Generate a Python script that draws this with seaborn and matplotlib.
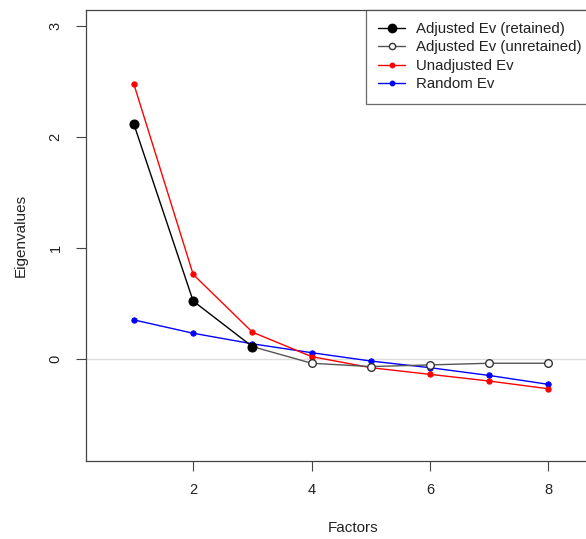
import matplotlib
matplotlib.use("Agg")
import matplotlib.pyplot as plt
from matplotlib.lines import Line2D
import seaborn as sns
import pandas as pd

factors = [1, 2, 3, 4, 5, 6, 7, 8]
adjusted = [2.11, 0.52, 0.11, -0.04, -0.07, -0.055, -0.04, -0.04]
unadjusted = [2.47, 0.76, 0.24, 0.02, -0.08, -0.14, -0.20, -0.27]
random_ev = [0.35, 0.23, 0.135, 0.055, -0.02, -0.08, -0.15, -0.23]
n_retained = 3

sns.set_style("white")
plt.rcParams['font.family'] = ['Liberation Sans', 'DejaVu Sans']

fig = plt.figure(figsize=(5.86, 5.39), dpi=100)
ax = fig.add_axes([86/586, 78/539, (620-86)/586, 451/539])

ax.axhline(0, color='#dddddd', lw=1, zorder=0)

df = pd.DataFrame({'f': factors, 'adj': adjusted, 'unadj': unadjusted, 'rnd': random_ev})
ret = df.iloc[:n_retained]
unret = df.iloc[n_retained - 1:]

sns.lineplot(data=df, x='f', y='rnd', color='blue', lw=1, marker='o', markersize=3.8,
             markeredgecolor='blue', ax=ax, zorder=2)
sns.lineplot(data=df, x='f', y='unadj', color='red', lw=1, marker='o', markersize=3.8,
             markeredgecolor='red', ax=ax, zorder=3)
sns.lineplot(data=unret, x='f', y='adj', color='#555555', lw=1, ax=ax, zorder=4)
sns.scatterplot(data=df.iloc[n_retained:], x='f', y='adj', s=30, facecolor='white',
                edgecolor='#333333', linewidth=1, ax=ax, zorder=5)
sns.lineplot(data=ret, x='f', y='adj', color='black', lw=1, marker='o', markersize=6.5,
             markeredgecolor='black', ax=ax, zorder=6)

ax.set_xlim(0.19, 9.21)
ax.set_ylim(-0.92, 3.14)
ax.set_xticks([2, 4, 6, 8])
ax.set_yticks([0, 1, 2, 3])
ax.set_yticklabels(['0', '1', '2', '3'], rotation=90, va='center')
ax.tick_params(axis='both', direction='out', length=7, width=0.8, color='#444444',
               labelsize=10.5, labelcolor='#222222', left=True, bottom=True)
ax.tick_params(axis='x', pad=9)
ax.tick_params(axis='y', pad=10)
for s in ax.spines.values():
    s.set_color('#444444')
    s.set_linewidth(0.9)
ax.set_xlabel('Factors', fontsize=11, color='#222222', labelpad=17)
ax.set_ylabel('Eigenvalues', fontsize=11, color='#222222', labelpad=15)

handles = [
    Line2D([], [], color='black', marker='o', markersize=6, lw=1),
    Line2D([], [], color='#555555', marker='o', markersize=4.5, markerfacecolor='white',
           markeredgecolor='#333333', lw=1),
    Line2D([], [], color='red', marker='o', markersize=3.2, lw=1),
    Line2D([], [], color='blue', marker='o', markersize=3.2, lw=1),
]
labels = ['Adjusted Ev (retained)', 'Adjusted Ev (unretained)', 'Unadjusted Ev', 'Random Ev']
leg = ax.legend(handles, labels, loc='upper left', bbox_to_anchor=((366-86)/534, 1.0),
                frameon=True, fancybox=False, fontsize=10.8, handlelength=1.8,
                borderaxespad=0, labelspacing=0.3, borderpad=0.8, handletextpad=0.72)
leg.get_frame().set_edgecolor('#444444')
leg.get_frame().set_linewidth(0.9)
for t in leg.get_texts():
    t.set_color('#222222')

fig.savefig('out.png', dpi=100)
